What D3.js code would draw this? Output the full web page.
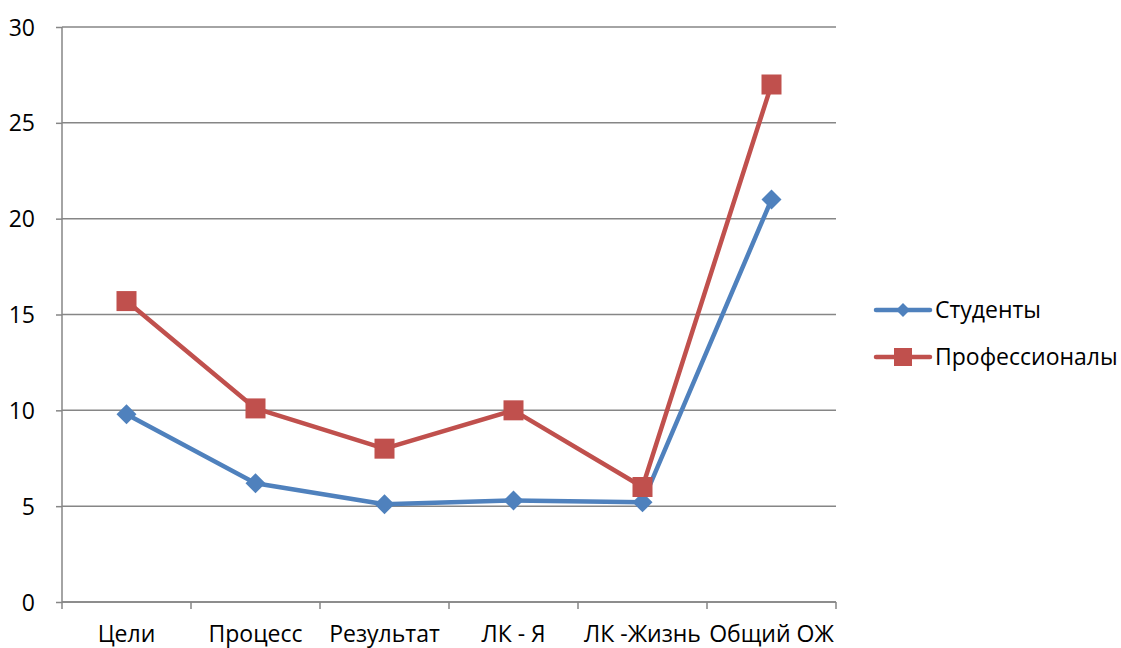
<!DOCTYPE html>
<html><head><meta charset="utf-8">
<script src="https://cdn.jsdelivr.net/npm/d3@7/dist/d3.min.js"></script>
<style>body{margin:0;background:#fff}svg{display:block}text{font-family:"Open Sans",sans-serif;fill:#000}</style>
</head><body><svg id="c" width="1121" height="648"></svg>
<script>
const categories = ["Цели","Процесс","Результат","ЛК - Я","ЛК -Жизнь","Общий ОЖ"];
const students = [9.8, 6.2, 5.1, 5.3, 5.2, 21];
const professionals = [15.7, 10.1, 8.0, 10.0, 6.0, 27];
const yTicks = [0,5,10,15,20,25,30];
const seriesNames = ["Студенты","Профессионалы"];
const colors = ["#4F81BD","#C0504D"];
const FS = 23;

const svg = d3.select("#c");
const L=62, R=836, T=27, B=602;
const x = d3.scaleBand().domain(categories).range([L,R]);
const y = d3.scaleLinear().domain([0,30]).range([B,T]);

svg.append("g").selectAll("line").data(yTicks).join("line")
  .attr("x1",L).attr("x2",R).attr("y1",d=>y(d)).attr("y2",d=>y(d))
  .attr("stroke","#868686").attr("stroke-width",1.5);
const ya = svg.append("g").attr("transform",`translate(${L},0)`)
  .call(d3.axisLeft(y).tickValues(yTicks).tickSize(6).tickPadding(21).tickFormat(d3.format("d")));
ya.attr("font-family",null).attr("font-size",null);
ya.select(".domain").attr("stroke","#868686").attr("stroke-width",1.5).attr("d",`M-0,${B}V${T}`);
ya.selectAll(".tick line").attr("stroke","#868686").attr("stroke-width",1.5);
ya.selectAll(".tick text").attr("font-size",FS).attr("dy","0.35em").attr("fill","#000");
const xa = svg.append("g").attr("transform",`translate(0,${B})`);
xa.append("line").attr("x1",L).attr("x2",R).attr("stroke","#868686").attr("stroke-width",1.5);
const bounds = d3.range(categories.length+1).map(i=> i<categories.length ? x(categories[i]) : R);
xa.selectAll(".tk").data(bounds).join("line").attr("x1",d=>d).attr("x2",d=>d).attr("y1",0).attr("y2",7)
  .attr("stroke","#868686").attr("stroke-width",1.5);
xa.selectAll(".lb").data(categories).join("text").attr("x",d=>x(d)+x.bandwidth()/2).attr("y",40)
  .attr("text-anchor","middle").attr("font-size",FS).text(d=>d);

const data=[students,professionals];
const line = d3.line().x((d,i)=>x(categories[i])+x.bandwidth()/2).y(d=>y(d));
function marker(g,k,cx,cy){
  if(k===0){ g.append("path").attr("d",`M${cx},${cy-10}L${cx+10},${cy}L${cx},${cy+10}L${cx-10},${cy}Z`).attr("fill",colors[0]); }
  else { g.append("rect").attr("x",cx-10).attr("y",cy-10).attr("width",20).attr("height",20).attr("fill",colors[1]); }
}
data.forEach((s,k)=>{
  const g=svg.append("g");
  g.append("path").attr("d",line(s)).attr("fill","none").attr("stroke",colors[k]).attr("stroke-width",4.5).attr("stroke-linejoin","round");
  s.forEach((v,i)=>marker(g,k,x(categories[i])+x.bandwidth()/2,y(v)));
});
seriesNames.forEach((n,k)=>{
  const ly=310+k*47;
  const g=svg.append("g");
  g.append("line").attr("x1",876).attr("x2",930).attr("y1",ly).attr("y2",ly).attr("stroke",colors[k]).attr("stroke-width",4.5).attr("stroke-linecap","round");
  if(k===0) g.append("path").attr("d",`M903,${ly-7}L910,${ly}L903,${ly+7}L896,${ly}Z`).attr("fill",colors[0]);
  else g.append("rect").attr("x",894).attr("y",ly-9).attr("width",18).attr("height",18).attr("fill",colors[1]);
  g.append("text").attr("x",935).attr("y",ly).attr("dy","0.35em").attr("font-size",FS).text(n);
});
</script></body></html>
